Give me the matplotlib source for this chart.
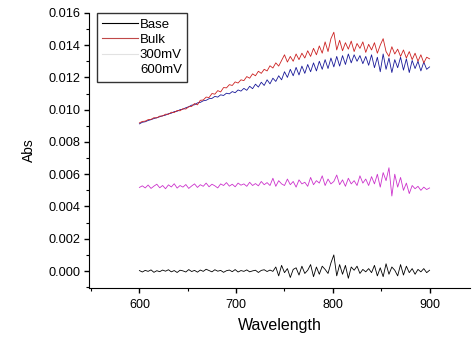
import numpy as np
import matplotlib
matplotlib.use('Agg')
import matplotlib.pyplot as plt
from matplotlib.lines import Line2D
from matplotlib.ticker import MultipleLocator, FormatStrFormatter

plt.rcParams['font.family'] = ['Liberation Sans', 'DejaVu Sans']

# wavelength grid, 3 nm steps
wavelength = np.arange(600, 901, 3)

base = [0.00003, -0.00006, 0.00004, -0.00002, 0.00007, -0.00008, 0.00002, -0.00004, 0.00006, -0.00001,
        0.00008, -0.00005, 0.00003, -0.00009, 0.00005, 0.00001, -0.00006, 0.00009, -0.00003, 0.00004,
        -0.00007, 0.00006, -0.00002, 0.00011, 0.00003, -0.00005, 0.00008, -0.00001, 0.00004, -0.00008,
        0.00002, 0.00006, -0.00004, 0.00009, -0.00006, 0.00003, -0.00002, 0.00007, -0.00005, 0.00001,
        0.00005, -0.00009, 0.00004, 0.00008, -0.00003, 0.00006, -0.00002, 0.00025, -0.00030, 0.00035,
        -0.00010, 0.00015, -0.00040, 0.00010, 0.00020, -0.00025, 0.00030, -0.00015, 0.00005, 0.00040,
        -0.00035, 0.00025, -0.00020, 0.00030, 0.00010, -0.00015, 0.00050, 0.00100, -0.00030, 0.00040,
        -0.00020, 0.00035, -0.00045, 0.00025, 0.00005, 0.00030, -0.00015, 0.00010, -0.00005, 0.00015,
        -0.00010, 0.00035, -0.00030, 0.00020, -0.00035, 0.00045, -0.00020, 0.00025, 0.00005, -0.00030,
        0.00040, -0.00025, 0.00030, -0.00010, 0.00015, -0.00020, 0.00010, -0.00005, 0.00015, -0.00010,
        0.00005]

bulk = [0.00918, 0.00927, 0.00929, 0.00938, 0.00940, 0.00950, 0.00949, 0.00960, 0.00961, 0.00972,
        0.00971, 0.00984, 0.00982, 0.00995, 0.00993, 0.01006, 0.01004, 0.01018, 0.01020, 0.01038,
        0.01030, 0.01058, 0.01060, 0.01078, 0.01075, 0.01100, 0.01096, 0.01118, 0.01110, 0.01137,
        0.01135, 0.01155, 0.01150, 0.01172, 0.01165, 0.01185, 0.01180, 0.01205, 0.01195, 0.01222,
        0.01210, 0.01238, 0.01225, 0.01250, 0.01240, 0.01272, 0.01258, 0.01290, 0.01270, 0.01305,
        0.01340, 0.01295, 0.01330, 0.01300, 0.01345, 0.01310, 0.01350, 0.01320, 0.01365, 0.01330,
        0.01380, 0.01340, 0.01395, 0.01350, 0.01420, 0.01360, 0.01440, 0.01480, 0.01370, 0.01430,
        0.01365, 0.01415, 0.01375, 0.01425, 0.01360, 0.01410, 0.01380, 0.01420, 0.01355, 0.01405,
        0.01370, 0.01415, 0.01350, 0.01400, 0.01440, 0.01360, 0.01330, 0.01390, 0.01345, 0.01375,
        0.01330, 0.01370, 0.01320, 0.01360, 0.01310, 0.01350, 0.01300, 0.01340, 0.01290, 0.01325,
        0.01315]

mv300 = [0.00518, 0.00528, 0.00515, 0.00533, 0.00512, 0.00526, 0.00538, 0.00516, 0.00530, 0.00510,
         0.00534, 0.00521, 0.00541, 0.00514, 0.00530, 0.00520, 0.00536, 0.00512, 0.00527, 0.00540,
         0.00518, 0.00535, 0.00525, 0.00545, 0.00522, 0.00538, 0.00528, 0.00515, 0.00540, 0.00530,
         0.00548, 0.00526, 0.00538, 0.00522, 0.00545, 0.00532, 0.00540, 0.00525, 0.00550, 0.00530,
         0.00542, 0.00528, 0.00555, 0.00535, 0.00548, 0.00530, 0.00575, 0.00525, 0.00560, 0.00540,
         0.00530, 0.00570, 0.00535, 0.00555, 0.00520, 0.00565, 0.00540, 0.00550, 0.00525, 0.00580,
         0.00535, 0.00560, 0.00545, 0.00590, 0.00530, 0.00570, 0.00540, 0.00555, 0.00595, 0.00535,
         0.00565, 0.00525, 0.00575, 0.00540, 0.00560, 0.00530, 0.00590, 0.00545, 0.00570, 0.00530,
         0.00585, 0.00540, 0.00600, 0.00520, 0.00610, 0.00560, 0.00640, 0.00465, 0.00600, 0.00520,
         0.00580, 0.00500, 0.00545, 0.00480, 0.00530, 0.00510, 0.00525, 0.00500, 0.00520, 0.00505,
         0.00515]

mv600 = [0.00912, 0.00922, 0.00925, 0.00933, 0.00938, 0.00945, 0.00950, 0.00956, 0.00962, 0.00966,
         0.00975, 0.00978, 0.00988, 0.00990, 0.01000, 0.01003, 0.01012, 0.01018, 0.01028, 0.01030,
         0.01042, 0.01045, 0.01055, 0.01058, 0.01068, 0.01070, 0.01082, 0.01078, 0.01092, 0.01088,
         0.01102, 0.01098, 0.01112, 0.01105, 0.01122, 0.01115, 0.01132, 0.01120, 0.01145, 0.01130,
         0.01158, 0.01140, 0.01170, 0.01150, 0.01185, 0.01160, 0.01195, 0.01175, 0.01210, 0.01185,
         0.01235, 0.01200, 0.01250, 0.01210, 0.01262, 0.01215, 0.01270, 0.01225, 0.01280, 0.01235,
         0.01290, 0.01240, 0.01300, 0.01250, 0.01310, 0.01255, 0.01320, 0.01265, 0.01330, 0.01270,
         0.01335, 0.01280, 0.01345, 0.01290, 0.01340, 0.01300, 0.01335, 0.01285, 0.01330, 0.01275,
         0.01340, 0.01260, 0.01325, 0.01235, 0.01345, 0.01250, 0.01320, 0.01230, 0.01310, 0.01260,
         0.01325, 0.01245, 0.01315, 0.01230, 0.01305, 0.01255, 0.01300, 0.01240, 0.01295, 0.01250,
         0.01265]

labels = ['Base', 'Bulk', '300mV', '600mV']

fig = plt.figure(figsize=(4.74, 3.38), dpi=100)
ax = fig.add_axes([0.188, 0.148, 0.804, 0.814])

ax.plot(wavelength, mv300, color='#cc33cc', lw=0.6)
ax.plot(wavelength, mv600, color='#1a1a99', lw=0.6)
ax.plot(wavelength, bulk, color='#cc2222', lw=0.6)
ax.plot(wavelength, base, color='black', lw=0.6)

ax.set_xlim(548, 942)
ax.set_ylim(-0.00105, 0.016)
ax.xaxis.set_major_locator(MultipleLocator(100))
ax.xaxis.set_minor_locator(MultipleLocator(50))
ax.yaxis.set_major_locator(MultipleLocator(0.002))
ax.yaxis.set_minor_locator(MultipleLocator(0.001))
ax.yaxis.set_major_formatter(FormatStrFormatter('%.3f'))
ax.tick_params(which='major', direction='out', length=3.5, width=1)
ax.tick_params(which='minor', direction='out', length=2, width=0.8)
ax.tick_params(axis='x', labelsize=9, pad=4.5)
ax.tick_params(axis='y', labelsize=9.2, pad=2.5)
for side in ['top', 'right']:
    ax.spines[side].set_visible(False)

ax.set_xlabel('Wavelength', fontsize=11.5, labelpad=5)
ax.set_ylabel('Abs', fontsize=10, labelpad=9)

handles = [Line2D([], [], color='black', lw=0.8),
           Line2D([], [], color='#c04848', lw=0.8),
           Line2D([], [], color='#e2e2e2', lw=0.8),
           Line2D([], [], color='white', lw=0.8)]
leg = ax.legend(handles, labels, loc='upper left', bbox_to_anchor=(0.02, 1.0),
                fontsize=9.5, frameon=True, fancybox=False, edgecolor='black',
                handlelength=2.7, handletextpad=0.15, labelspacing=0.23,
                borderpad=0.42, borderaxespad=0)
leg.get_frame().set_linewidth(1)

fig.savefig('out.png', dpi=100)
